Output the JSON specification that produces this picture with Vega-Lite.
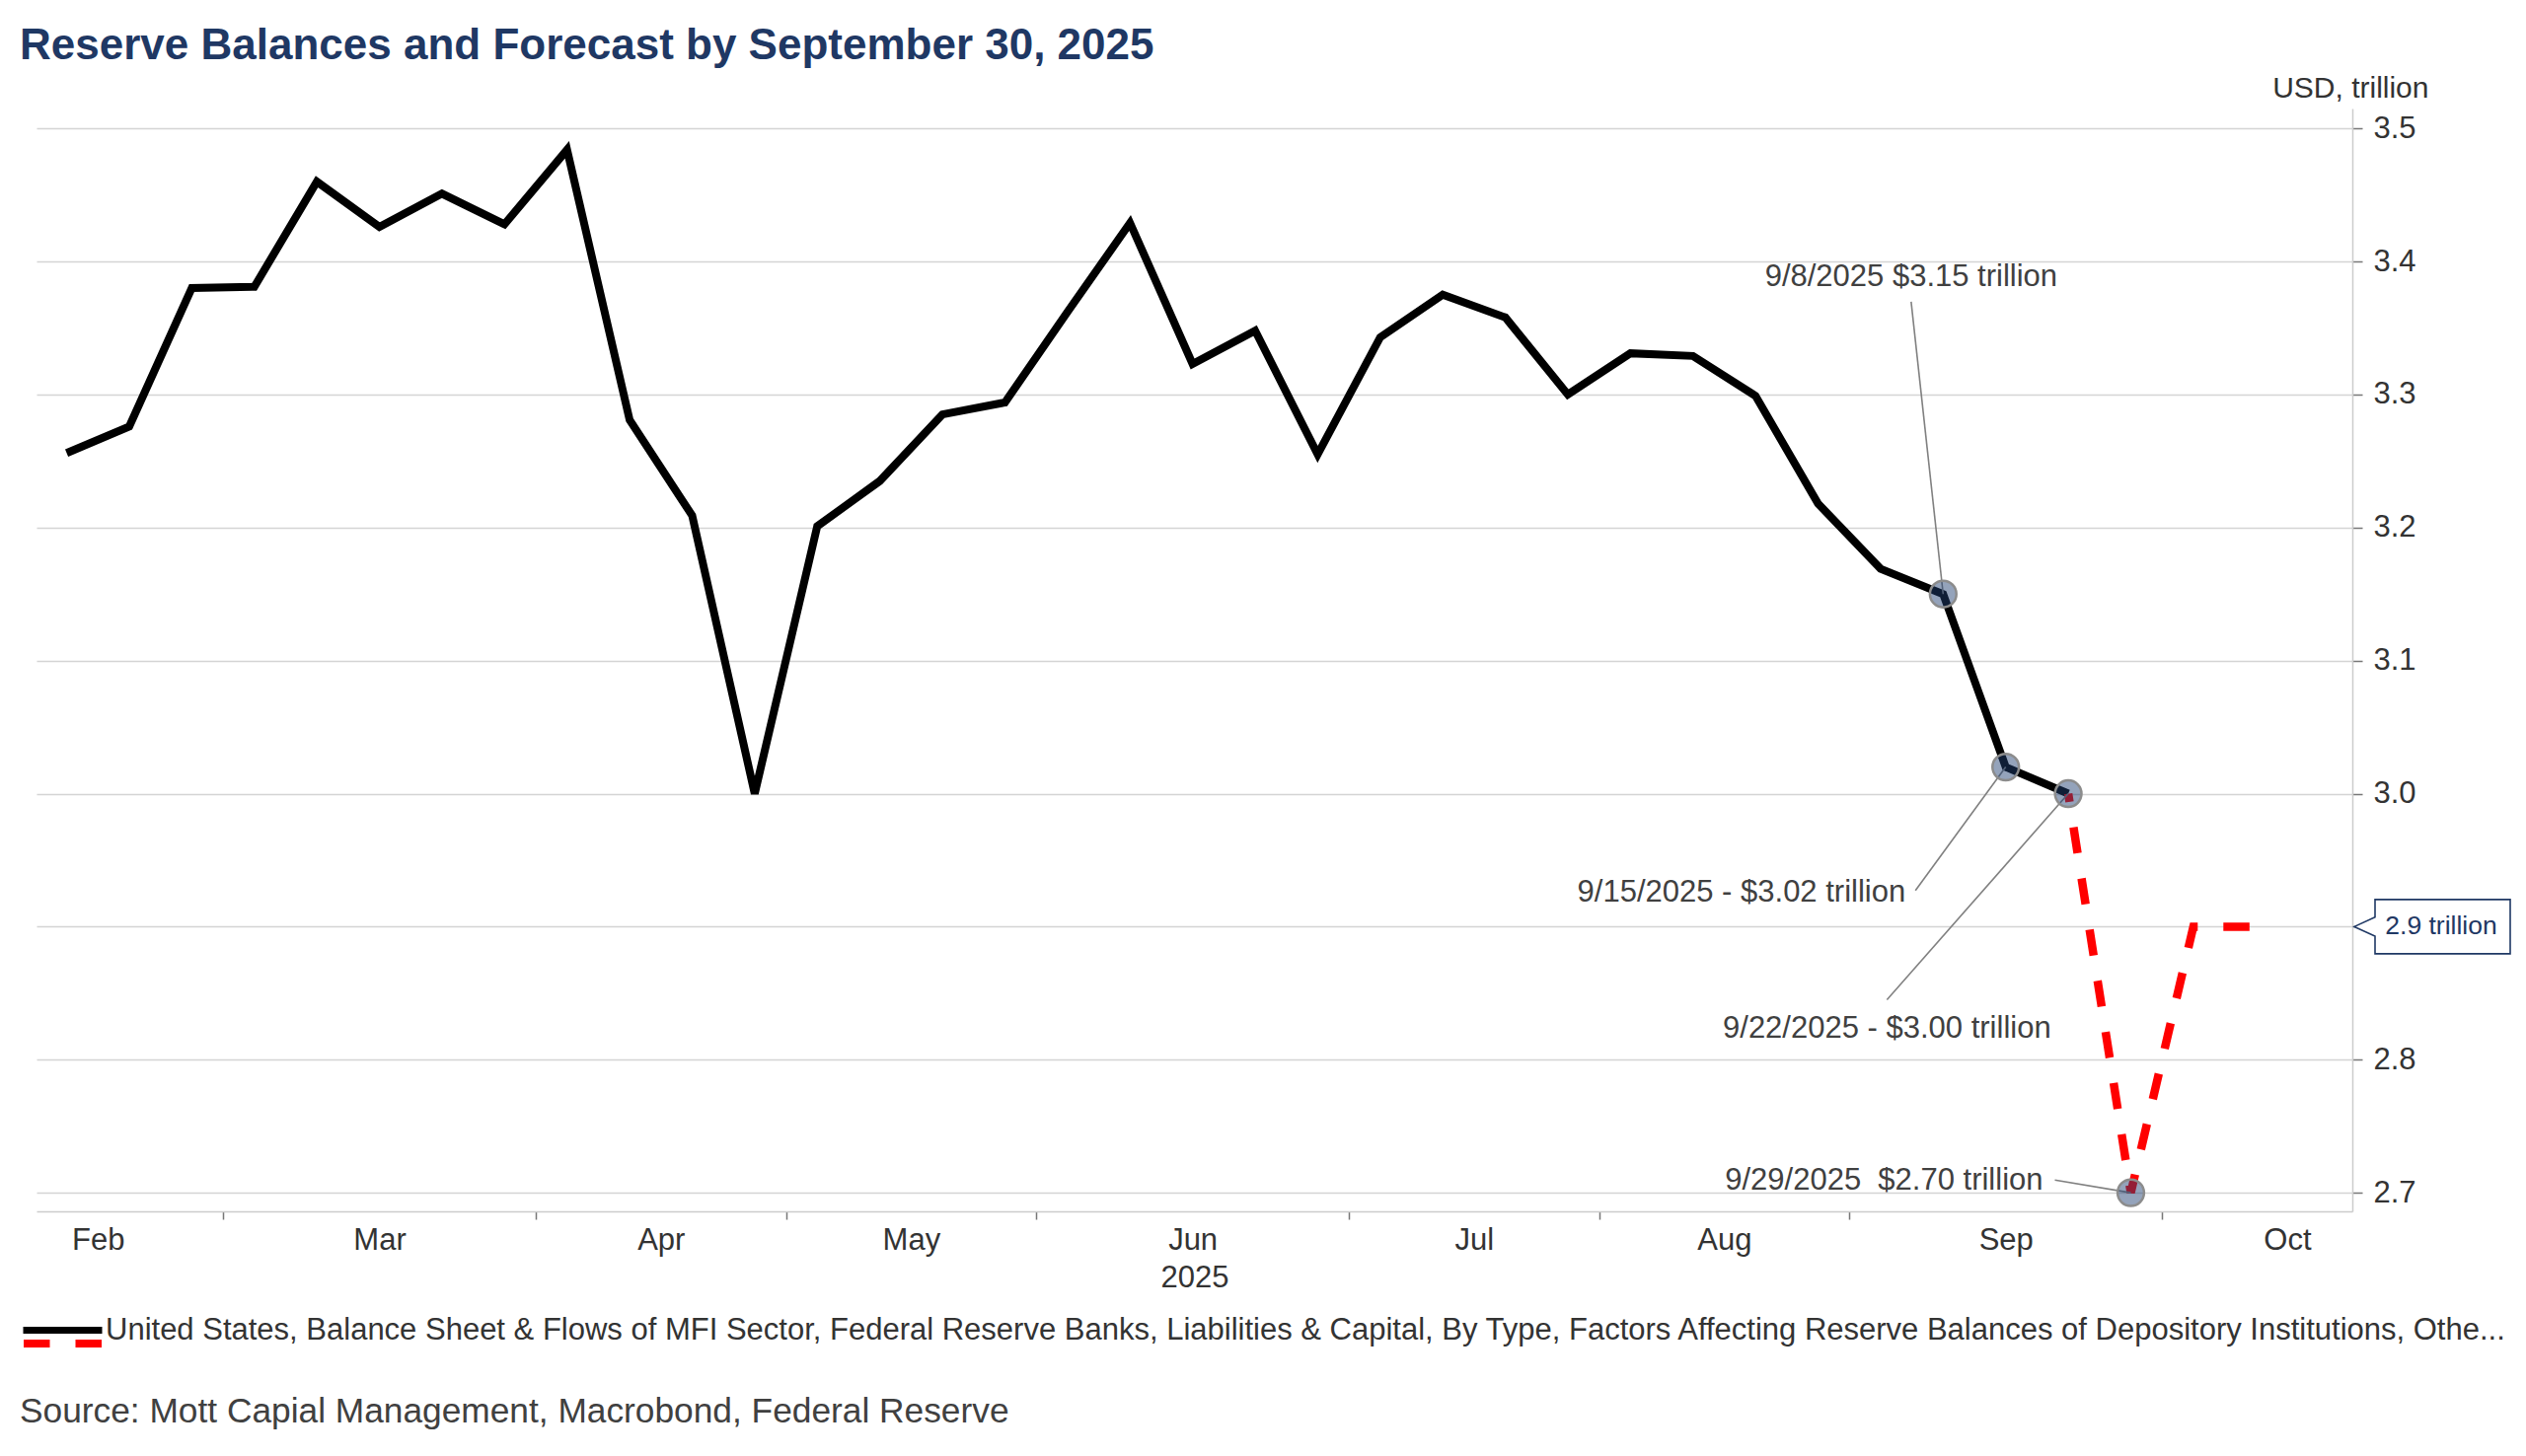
{
  "$schema": "https://vega.github.io/schema/vega-lite/v6.json",
  "width": 2347,
  "height": 1118,
  "autosize": {"type": "none"},
  "padding": {"left": 37, "top": 110, "right": 176, "bottom": 248},
  "background": "white",
  "config": {
    "font": "Liberation Sans",
    "view": {"stroke": null}
  },
  "title": {
    "text": "Reserve Balances and Forecast by September 30, 2025",
    "anchor": "start",
    "frame": "group",
    "fontSize": 44,
    "fontWeight": "bold",
    "color": "#1f3864",
    "dx": -17,
    "dy": 40,
    "baseline": "alphabetic",
    "offset": 10
  },
  "datasets": {
    "reserves": [
      {"date": "2025-02-10", "value": 3.256},
      {"date": "2025-02-17", "value": 3.276},
      {"date": "2025-02-24", "value": 3.380},
      {"date": "2025-03-03", "value": 3.381},
      {"date": "2025-03-10", "value": 3.460},
      {"date": "2025-03-17", "value": 3.426},
      {"date": "2025-03-24", "value": 3.451},
      {"date": "2025-03-31", "value": 3.428},
      {"date": "2025-04-07", "value": 3.484},
      {"date": "2025-04-14", "value": 3.281},
      {"date": "2025-04-21", "value": 3.209},
      {"date": "2025-04-28", "value": 3.000},
      {"date": "2025-05-05", "value": 3.201},
      {"date": "2025-05-12", "value": 3.235},
      {"date": "2025-05-19", "value": 3.285},
      {"date": "2025-05-26", "value": 3.294},
      {"date": "2025-06-02", "value": 3.362},
      {"date": "2025-06-09", "value": 3.429},
      {"date": "2025-06-16", "value": 3.323},
      {"date": "2025-06-23", "value": 3.348},
      {"date": "2025-06-30", "value": 3.255},
      {"date": "2025-07-07", "value": 3.343},
      {"date": "2025-07-14", "value": 3.375},
      {"date": "2025-07-21", "value": 3.358},
      {"date": "2025-07-28", "value": 3.300},
      {"date": "2025-08-04", "value": 3.331},
      {"date": "2025-08-11", "value": 3.329},
      {"date": "2025-08-18", "value": 3.299},
      {"date": "2025-08-25", "value": 3.218},
      {"date": "2025-09-01", "value": 3.169},
      {"date": "2025-09-08", "value": 3.150},
      {"date": "2025-09-15", "value": 3.020},
      {"date": "2025-09-22", "value": 3.000}
    ],
    "forecast": [
      {"date": "2025-09-22", "value": 3.00},
      {"date": "2025-09-29", "value": 2.70},
      {"date": "2025-10-06", "value": 2.90},
      {"date": "2025-10-13", "value": 2.90}
    ],
    "highlights": [
      {"date": "2025-09-08", "value": 3.15},
      {"date": "2025-09-15", "value": 3.02},
      {"date": "2025-09-22", "value": 3.00},
      {"date": "2025-09-29", "value": 2.70}
    ],
    "callouts": [
      {"label": "9/8/2025 $3.15 trillion", "date": "2025-09-04T10:00:00Z", "value": 3.3697, "pdate": "2025-09-08T00:00:00Z", "pvalue": 3.15},
      {"label": "9/15/2025 - $3.02 trillion", "date": "2025-09-04T21:30:00Z", "value": 2.9272, "pdate": "2025-09-15T00:00:00Z", "pvalue": 3.02},
      {"label": "9/22/2025 - $3.00 trillion", "date": "2025-09-01T17:00:00Z", "value": 2.845, "pdate": "2025-09-22T00:00:00Z", "pvalue": 3.00},
      {"label": "9/29/2025\u00a0 $2.70 trillion", "date": "2025-09-20T12:00:00Z", "value": 2.7096, "pdate": "2025-09-29T00:00:00Z", "pvalue": 2.70}
    ],
    "target": [
      {"value": 2.9, "label": "2.9 trillion"}
    ]
  },
  "encoding": {
    "x": {
      "field": "date",
      "type": "temporal",
      "scale": {
        "type": "utc",
        "domain": [
          {"year": 2025, "month": 2, "date": 6, "hours": 15, "utc": true},
          {"year": 2025, "month": 10, "date": 23, "hours": 19, "utc": true}
        ]
      },
      "axis": null
    },
    "y": {
      "field": "value",
      "type": "quantitative",
      "scale": {"domain": [2.686, 3.515], "nice": false, "zero": false},
      "axis": {
        "orient": "right",
        "values": [2.7, 2.8, 2.9, 3.0, 3.1, 3.2, 3.3, 3.4, 3.5],
        "labelExpr": "abs(datum.value - 2.9) < 0.001 ? '' : format(datum.value, '.1f')",
        "grid": true,
        "gridColor": "#d4d4d4",
        "gridWidth": 1.5,
        "domain": true,
        "domainColor": "#cccccc",
        "domainWidth": 1.5,
        "ticks": true,
        "tickColor": "#777777",
        "tickSize": 10,
        "tickWidth": 1.5,
        "labelFontSize": 31,
        "labelColor": "#333333",
        "labelPadding": 11,
        "title": "USD, trillion",
        "titleAngle": 0,
        "titleFontSize": 30,
        "titleFontWeight": "normal",
        "titleColor": "#333333",
        "titleAlign": "right",
        "titleBaseline": "alphabetic",
        "titleX": 77,
        "titleY": -12
      }
    }
  },
  "layer": [
    {
      "data": {"name": "reserves"},
      "mark": {"type": "line", "strokeWidth": 8, "strokeJoin": "miter"},
      "encoding": {
        "x": {
          "field": "date",
          "type": "temporal",
          "scale": {
            "type": "utc",
            "domain": [
              {"year": 2025, "month": 2, "date": 6, "hours": 15, "utc": true},
              {"year": 2025, "month": 10, "date": 23, "hours": 19, "utc": true}
            ]
          },
          "axis": {
            "orient": "bottom",
            "values": [
              {"year": 2025, "month": 2, "date": 27, "hours": 12, "utc": true},
              {"year": 2025, "month": 4, "date": 3, "hours": 12, "utc": true},
              {"year": 2025, "month": 5, "date": 1, "hours": 12, "utc": true},
              {"year": 2025, "month": 5, "date": 29, "hours": 12, "utc": true},
              {"year": 2025, "month": 7, "date": 3, "hours": 12, "utc": true},
              {"year": 2025, "month": 7, "date": 31, "hours": 12, "utc": true},
              {"year": 2025, "month": 8, "date": 28, "hours": 12, "utc": true},
              {"year": 2025, "month": 10, "date": 2, "hours": 12, "utc": true}
            ],
            "labels": false,
            "ticks": true,
            "tickSize": 8,
            "tickWidth": 1.5,
            "tickColor": "#777777",
            "domain": true,
            "domainColor": "#cccccc",
            "domainWidth": 1.5,
            "grid": false,
            "title": null
          }
        },
        "color": {
          "datum": "United States, Balance Sheet & Flows of MFI Sector, Federal Reserve Banks, Liabilities & Capital, By Type, Factors Affecting Reserve Balances of Depository Institutions, Othe...",
          "scale": {"range": ["#000000"]},
          "legend": {
            "orient": "none",
            "legendX": -17,
            "legendY": 1195,
            "padding": 0,
            "symbolType": "stroke",
            "symbolSize": 6400,
            "symbolStrokeWidth": 7,
            "symbolStrokeColor": "#000000",
            "labelFontSize": 31,
            "labelColor": "#333333",
            "labelLimit": 4000,
            "labelOffset": 0,
            "title": "Source: Mott Capial Management, Macrobond, Federal Reserve",
            "titleOrient": "bottom",
            "titleAnchor": "start",
            "titleAlign": "left",
            "titleFontSize": 35.3,
            "titleFontWeight": "normal",
            "titleColor": "#404040",
            "titleLimit": 4000,
            "titlePadding": 50
          }
        }
      }
    },
    {
      "data": {"name": "forecast"},
      "mark": {"type": "line", "strokeWidth": 8.5, "color": "#ff0000", "strokeDashOffset": 18, "strokeCap": "butt"},
      "encoding": {
        "x": {
          "field": "date",
          "type": "temporal",
          "scale": {
            "type": "utc",
            "domain": [
              {"year": 2025, "month": 2, "date": 6, "hours": 15, "utc": true},
              {"year": 2025, "month": 10, "date": 23, "hours": 19, "utc": true}
            ]
          },
          "axis": {
            "orient": "bottom",
            "values": [
              {"year": 2025, "month": 2, "date": 13, "hours": 12, "utc": true},
              {"year": 2025, "month": 3, "date": 17, "hours": 0, "utc": true},
              {"year": 2025, "month": 4, "date": 17, "hours": 12, "utc": true},
              {"year": 2025, "month": 5, "date": 15, "hours": 12, "utc": true},
              {"year": 2025, "month": 6, "date": 16, "hours": 0, "utc": true},
              {"year": 2025, "month": 7, "date": 17, "hours": 12, "utc": true},
              {"year": 2025, "month": 8, "date": 14, "hours": 12, "utc": true},
              {"year": 2025, "month": 9, "date": 15, "hours": 0, "utc": true},
              {"year": 2025, "month": 10, "date": 16, "hours": 12, "utc": true}
            ],
            "labelExpr": "utcFormat(datum.value, '%b')",
            "labelAlign": "center",
            "labelFontSize": 31,
            "labelColor": "#333333",
            "labelPadding": 14,
            "labelFlush": false,
            "labelOverlap": false,
            "ticks": false,
            "tickSize": 0,
            "domain": false,
            "grid": false,
            "title": "2025",
            "titleFontSize": 31,
            "titleFontWeight": "normal",
            "titleColor": "#333333",
            "titlePadding": 8
          }
        },
        "strokeDash": {
          "datum": "forecast",
          "scale": {"range": [[26.5, 26]]},
          "legend": {
            "orient": "none",
            "legendX": -17,
            "legendY": 1208,
            "padding": 0,
            "symbolType": "stroke",
            "symbolSize": 6400,
            "symbolStrokeWidth": 8,
            "symbolStrokeColor": "#ff0000",
            "labelExpr": "''",
            "labelFontSize": 31,
            "title": null
          }
        }
      }
    },
    {
      "data": {"name": "callouts"},
      "mark": {"type": "rule", "color": "#808080", "strokeWidth": 1.6},
      "encoding": {
        "x2": {"field": "pdate"},
        "y2": {"field": "pvalue"}
      }
    },
    {
      "data": {"name": "highlights"},
      "mark": {"type": "circle", "size": 720, "fill": "#1f3f71", "fillOpacity": 0.48, "stroke": "#8c8c8c", "strokeWidth": 2.5, "strokeOpacity": 1}
    },
    {
      "data": {"name": "callouts"},
      "transform": [{"filter": "datum.label == '9/8/2025 $3.15 trillion'"}],
      "mark": {"type": "text", "align": "center", "baseline": "alphabetic", "dy": -16, "fontSize": 31, "color": "#404040"},
      "encoding": {"text": {"field": "label"}}
    },
    {
      "data": {"name": "callouts"},
      "transform": [{"filter": "datum.label == '9/15/2025 - $3.02 trillion'"}],
      "mark": {"type": "text", "align": "right", "baseline": "alphabetic", "dx": -10, "dy": 11, "fontSize": 31, "color": "#404040"},
      "encoding": {"text": {"field": "label"}}
    },
    {
      "data": {"name": "callouts"},
      "transform": [{"filter": "datum.label == '9/22/2025 - $3.00 trillion'"}],
      "mark": {"type": "text", "align": "center", "baseline": "alphabetic", "dy": 38, "fontSize": 31, "color": "#404040"},
      "encoding": {"text": {"field": "label"}}
    },
    {
      "data": {"name": "callouts"},
      "transform": [{"filter": "datum.pvalue == 2.7"}],
      "mark": {"type": "text", "align": "right", "baseline": "alphabetic", "dx": -12, "dy": 10, "fontSize": 31, "color": "#404040"},
      "encoding": {"text": {"field": "label"}}
    },
    {
      "data": {"name": "target"},
      "mark": {
        "type": "point",
        "shape": "M-1,0L-0.7375,-0.12L-0.7375,-0.344L0.975,-0.344L0.975,0.344L-0.7375,0.344L-0.7375,0.12Z",
        "size": 25600,
        "filled": true,
        "fill": "#ffffff",
        "stroke": "#1f3864",
        "strokeWidth": 1.6,
        "opacity": 1,
        "xOffset": 82
      },
      "encoding": {"x": {"value": "width"}}
    },
    {
      "data": {"name": "target"},
      "mark": {"type": "text", "align": "center", "baseline": "middle", "dx": 90, "fontSize": 26.5, "color": "#1f3864"},
      "encoding": {"x": {"value": "width"}, "text": {"field": "label"}}
    }
  ],
  "resolve": {"axis": {"x": "independent"}}
}
